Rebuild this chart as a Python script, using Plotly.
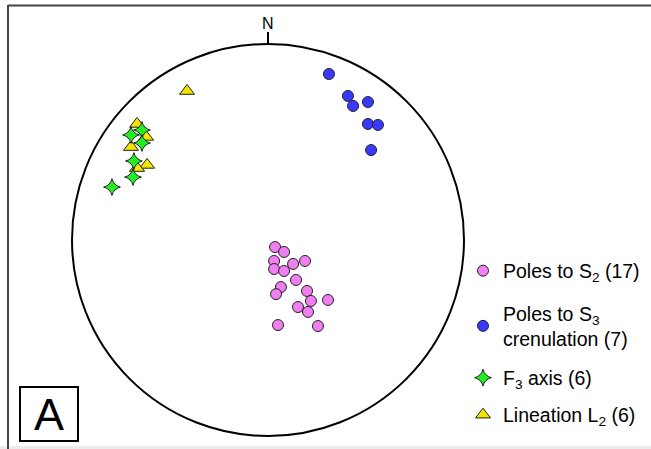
import plotly.graph_objects as go

# Equal-area (lower hemisphere) projected positions, unit primitive circle.
# Poles to S2 foliation
s2_east = [0.036, 0.082, 0.031, 0.031, 0.082, 0.128, 0.189, 0.066, 0.041,
           0.143, 0.199, 0.219, 0.306, 0.153, 0.204, 0.051, 0.255]
s2_north = [-0.036, -0.061, -0.107, -0.148, -0.158, -0.122, -0.107, -0.240, -0.276,
            -0.204, -0.260, -0.311, -0.306, -0.342, -0.367, -0.434, -0.439]

# Poles to S3 crenulation cleavage
s3_east = [0.311, 0.408, 0.434, 0.510, 0.510, 0.561, 0.526]
s3_north = [0.847, 0.735, 0.684, 0.704, 0.592, 0.587, 0.459]

# F3 fold axes
f3_east = [-0.643, -0.699, -0.643, -0.684, -0.689, -0.796]
f3_north = [0.561, 0.536, 0.495, 0.403, 0.321, 0.270]

# L2 lineations
l2_east = [-0.668, -0.622, -0.699, -0.617, -0.668, -0.413]
l2_north = [0.592, 0.526, 0.474, 0.383, 0.367, 0.760]

legend_labels = [
    "Poles to S<sub>2</sub> (17)",
    "Poles to S<sub>3</sub><br>crenulation (7)",
    "F<sub>3</sub> axis (6)",
    "Lineation L<sub>2</sub> (6)",
]

W, H = 651, 449
CX, CY, RAD = 268, 240, 196  # net centre and radius in pixels

OUTLINE = dict(color="#222222", width=1)

fig = go.Figure()

fig.add_trace(go.Scatter(
    x=l2_east, y=l2_north, mode="markers", name=legend_labels[3], legend="legend4",
    marker=dict(symbol="triangle-up", size=13, color="#f5e400", line=OUTLINE)))
fig.add_trace(go.Scatter(
    x=f3_east, y=f3_north, mode="markers", name=legend_labels[2], legend="legend3",
    marker=dict(symbol="star-diamond", size=12, color="#22ee22", line=OUTLINE)))
fig.add_trace(go.Scatter(
    x=s2_east, y=s2_north, mode="markers", name=legend_labels[0], legend="legend",
    marker=dict(symbol="circle", size=11, color="#f080f0", line=OUTLINE)))
fig.add_trace(go.Scatter(
    x=s3_east, y=s3_north, mode="markers", name=legend_labels[1], legend="legend2",
    marker=dict(symbol="circle", size=11, color="#3838ff", line=OUTLINE)))

font = dict(family="Liberation Sans, Arial, sans-serif", size=19.5, color="#000000")


def legend_at(py, px=463):
    return dict(x=px / W, y=1 - py / H, xanchor="left", yanchor="middle",
                bgcolor="rgba(0,0,0,0)", borderwidth=0, font=font,
                itemclick=False, itemdoubleclick=False)


shapes = [
    # primitive circle
    dict(type="circle", xref="x", yref="y", x0=-1, x1=1, y0=-1, y1=1,
         line=dict(color="#000000", width=2)),
    # north tick
    dict(type="line", xref="x", yref="y", x0=0, x1=0, y0=1, y1=1 + 12 / RAD,
         line=dict(color="#000000", width=2)),
    # panel frame (top and left edges)
    dict(type="line", xref="paper", yref="paper", x0=8 / W, x1=1,
         y0=1 - 5.5 / H, y1=1 - 5.5 / H, line=dict(color="#444444", width=2)),
    dict(type="line", xref="paper", yref="paper", x0=8 / W, x1=8 / W,
         y0=0, y1=1 - 5 / H, line=dict(color="#444444", width=2)),
    # panel letter box
    dict(type="rect", xref="paper", yref="paper", x0=20 / W, x1=78 / W,
         y0=1 - 441 / H, y1=1 - 387 / H, line=dict(color="#000000", width=2)),
    # faint strip along the bottom edge
    dict(type="rect", xref="paper", yref="paper", x0=0, x1=1, y0=0, y1=3 / H,
         fillcolor="#ececec", line=dict(width=0), layer="below"),
]

annotations = [
    dict(text="N", xref="x", yref="y", x=0, y=(CY - 23.5) / RAD, showarrow=False,
         xanchor="center", yanchor="middle",
         font=dict(family="Liberation Sans, Arial, sans-serif", size=16, color="#000000")),
    dict(text="A", xref="paper", yref="paper", x=49 / W, y=1 - 414 / H, showarrow=False,
         xanchor="center", yanchor="middle",
         font=dict(family="Liberation Sans, Arial, sans-serif", size=45, color="#000000")),
]

fig.update_layout(
    width=W, height=H, autosize=False,
    margin=dict(l=0, r=0, t=0, b=0),
    paper_bgcolor="#ffffff", plot_bgcolor="#ffffff",
    xaxis=dict(range=[-CX / RAD, (W - CX) / RAD], visible=False, fixedrange=True),
    yaxis=dict(range=[-(H - CY) / RAD, CY / RAD], visible=False, fixedrange=True),
    showlegend=True,
    legend=legend_at(271),
    legend2=legend_at(326),
    legend3=legend_at(378),
    legend4=legend_at(415),
    shapes=shapes,
    annotations=annotations,
)

fig.write_html("out.html")
